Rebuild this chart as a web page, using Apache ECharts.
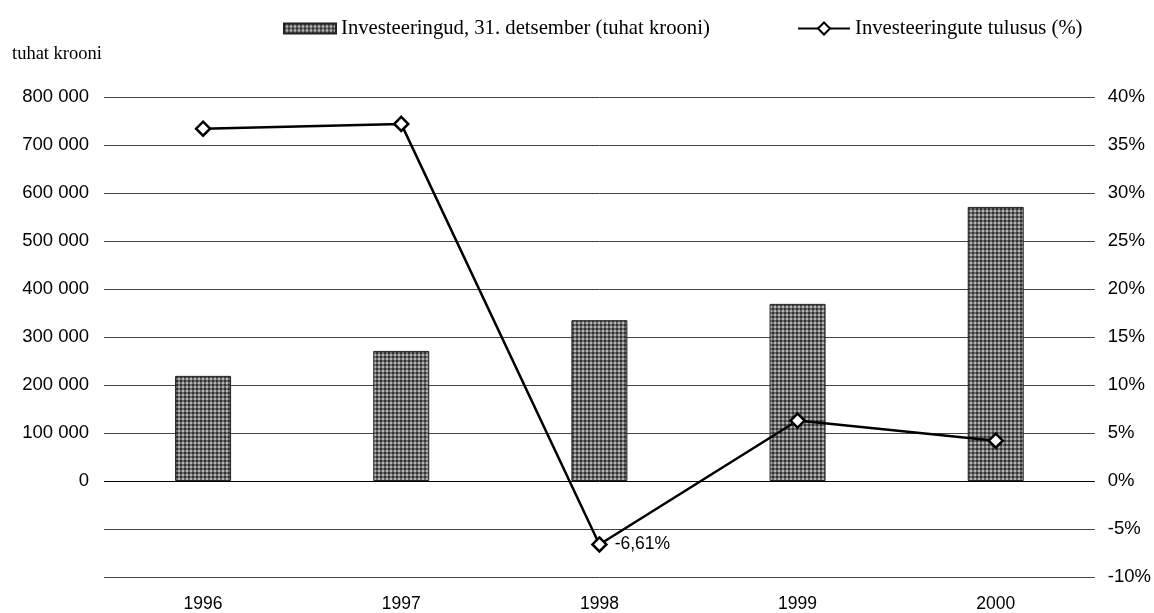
<!DOCTYPE html>
<html>
<head>
<meta charset="utf-8">
<script src="https://cdn.jsdelivr.net/npm/echarts@6/dist/echarts.min.js"></script>
<style>
  html, body { margin: 0; padding: 0; background: #fff; }
  #chart { width: 1154px; height: 613px; }
</style>
</head>
<body>
<div id="chart"></div>
<script>
// Investments at year end (thousand kroons) and their annual yield (%)
const years = ['1996', '1997', '1998', '1999', '2000'];
const investments = [219000, 271000, 335000, 369000, 571000];
const yieldPct = [36.7, 37.2, -6.61, 6.3, 4.2];
const barName = 'Investeeringud, 31. detsember (tuhat krooni)';
const lineName = 'Investeeringute tulusus (%)';
const unitLabel = 'tuhat krooni';

// Small checkered fill for the bars
function checkerPattern() {
  const c = document.createElement('canvas');
  c.width = 4; c.height = 4;
  const g = c.getContext('2d');
  g.fillStyle = '#6a6a6a';
  g.fillRect(0, 0, 4, 4);
  g.fillStyle = '#333333';
  g.fillRect(0, 0, 2, 2);
  g.fillStyle = '#b4b4b4';
  g.fillRect(2, 2, 2, 2);
  return c;
}
const barFill = { image: checkerPattern(), repeat: 'repeat' };

function thousands(v) {
  return String(v).replace(/\B(?=(\d{3})+(?!\d))/g, ' ');
}

const gridColors = [];
for (let v = -200000; v <= 800000; v += 100000) gridColors.push(v === 0 ? '#000' : '#444');

const serif = 'Liberation Serif, Times New Roman, serif';

const chart = echarts.init(document.getElementById('chart'), null, { renderer: 'canvas' });
chart.setOption({
  animation: false,
  backgroundColor: '#fff',
  textStyle: { fontFamily: 'Liberation Sans, Arial, sans-serif', color: '#000' },
  grid: { left: 104, right: 59, top: 97, bottom: 36, containLabel: false },
  legend: [
    {
      data: [{ name: barName, icon: 'rect' }], left: 278, top: 13,
      itemWidth: 52, itemHeight: 10, itemGap: 0,
      textStyle: { fontFamily: serif, fontSize: 20.7, color: '#000' }
    },
    {
      data: [lineName], left: 792, top: 13,
      itemWidth: 52, itemHeight: 15, itemGap: 0,
      textStyle: { fontFamily: serif, fontSize: 20.7, color: '#000' }
    }
  ],
  graphic: [{
    type: 'text', left: 12, top: 45,
    style: { text: unitLabel, fontFamily: serif, fontSize: 18.5, fill: '#000' }
  }],
  xAxis: {
    type: 'category', data: years,
    axisLine: { show: false, onZero: false },
    axisTick: { show: false },
    axisLabel: { margin: 18, fontSize: 17.5, color: '#000' },
    splitLine: { show: false }
  },
  yAxis: [
    {
      type: 'value', min: -200000, max: 800000, interval: 100000,
      axisLine: { show: false }, axisTick: { show: false },
      axisLabel: {
        margin: 15, fontSize: 18.5, color: '#000',
        formatter: v => v < 0 ? '' : thousands(v)
      },
      splitLine: { show: true, lineStyle: { color: gridColors, width: 1 } }
    },
    {
      type: 'value', min: -10, max: 40, interval: 5,
      axisLine: { show: false }, axisTick: { show: false },
      axisLabel: { margin: 13, fontSize: 18.5, color: '#000', formatter: '{value}%' },
      splitLine: { show: false }
    }
  ],
  series: [
    {
      name: barName, type: 'bar', yAxisIndex: 0,
      data: investments, barWidth: 56,
      itemStyle: { color: barFill, borderColor: '#222', borderWidth: 1 }
    },
    {
      name: lineName, type: 'line', yAxisIndex: 1,
      data: yieldPct.map((v, i) => ({
        value: v,
        label: i === 2 ? {
          show: true, position: 'right', distance: 7, fontSize: 17.5, color: '#000',
          formatter: p => String(p.value).replace('.', ',') + '%'
        } : { show: false }
      })),
      symbol: 'diamond', symbolSize: 14,
      lineStyle: { color: '#000', width: 2.5 },
      itemStyle: { color: '#fff', borderColor: '#000', borderWidth: 2.5 },
      z: 5
    }
  ]
});
</script>
</body>
</html>
